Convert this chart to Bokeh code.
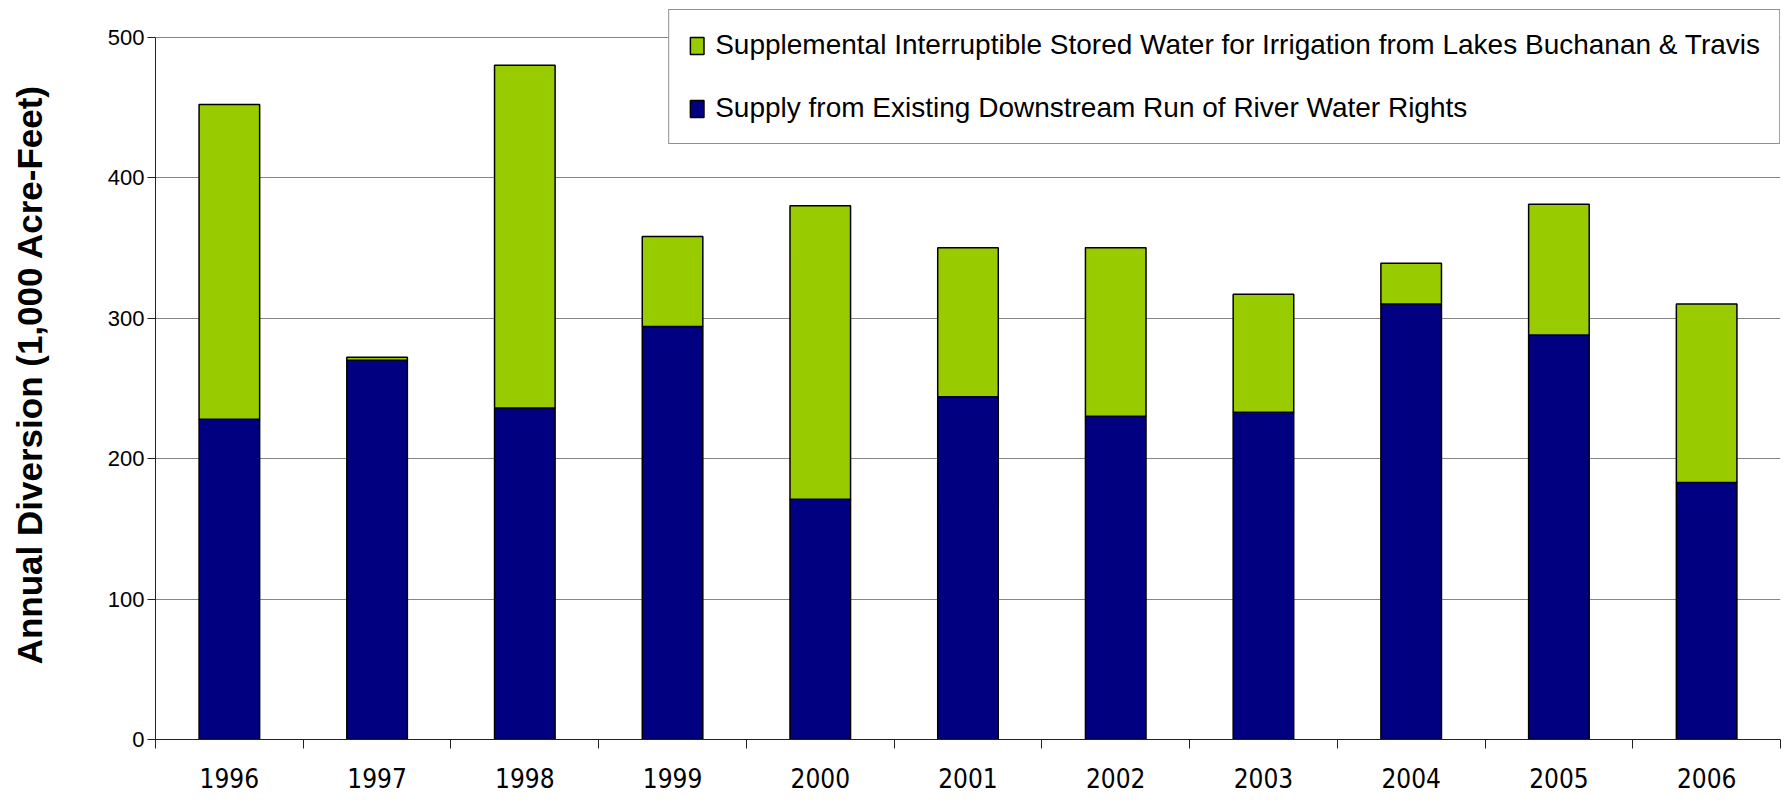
from bokeh.plotting import figure
from bokeh.models import (ColumnDataSource, Range1d, FixedTicker, Legend, LegendItem)
from bokeh.embed import file_html
from bokeh.resources import INLINE

# ---- data (1,000 acre-feet) ----
years = ["1996", "1997", "1998", "1999", "2000", "2001", "2002", "2003", "2004", "2005", "2006"]
run_of_river = [228, 270, 236, 294, 171, 244, 230, 233, 310, 288, 183]
stored_water = [224, 2, 244, 64, 209, 106, 120, 84, 29, 93, 127]
y_ticks = [0, 100, 200, 300, 400, 500]

label_stored = "Supplemental Interruptible Stored Water for Irrigation from Lakes Buchanan & Travis"
label_run = "Supply from Existing Downstream Run of River Water Rights"

xpos = list(range(1, len(years) + 1))
source = ColumnDataSource(dict(x=xpos, run=run_of_river, stored=stored_water))

W, H = 1784, 800
p = figure(width=W, height=H, output_backend="svg", toolbar_location=None,
           x_range=Range1d(0.5, len(years) + 0.5), y_range=Range1d(0, 519.6),
           min_border_left=155, min_border_right=4, min_border_top=9, min_border_bottom=61)
p.outline_line_color = None
p.background_fill_color = "white"
p.border_fill_color = "white"

rs = p.vbar_stack(["run", "stored"], x="x", width=0.41, source=source,
                  fill_color=["#000080", "#99CC00"], line_color="black", line_width=1.5)

# grid
p.xgrid.visible = False
p.ygrid.ticker = FixedTicker(ticks=y_ticks)
p.ygrid.grid_line_color = "#868686"
p.ygrid.grid_line_width = 1

# y axis
ya = p.yaxis[0]
ya.ticker = FixedTicker(ticks=y_ticks, minor_ticks=[])
ya.bounds = (0, 500)
ya.axis_line_color = "#222222"
ya.major_tick_line_color = "#222222"
ya.major_tick_out = 8
ya.major_tick_in = 0
ya.minor_tick_line_color = None
ya.major_label_standoff = 3
ya.major_label_text_font = "Liberation Sans"
ya.major_label_text_font_size = "22px"
ya.major_label_text_color = "black"
ya.axis_label = "Annual Diversion (1,000 Acre-Feet)"
ya.axis_label_text_font = "Liberation Sans"
ya.axis_label_text_font_style = "bold"
ya.axis_label_text_font_size = "35px"
ya.axis_label_text_color = "black"
ya.axis_label_standoff = 56

# x axis: labels at bar centres, tick marks at category boundaries
xa = p.xaxis[0]
xa.ticker = FixedTicker(ticks=xpos, minor_ticks=[i + 0.5 for i in range(0, len(years) + 1)])
xa.major_label_overrides = {i: y for i, y in zip(xpos, years)}
xa.axis_line_color = "#222222"
xa.major_tick_line_color = None
xa.major_tick_out = 0
xa.major_tick_in = 0
xa.minor_tick_line_color = "#222222"
xa.minor_tick_out = 9
xa.minor_tick_in = 0
xa.major_label_standoff = 19
xa.major_label_text_font = "Liberation Sans Narrow, DejaVu Sans Condensed, Liberation Sans"
xa.major_label_text_font_size = "26px"
xa.major_label_text_color = "black"

legend = Legend(items=[LegendItem(label=label_stored, renderers=[rs[1]]),
                       LegendItem(label=label_run, renderers=[rs[0]])],
                location="top_right", margin=0, padding=19, spacing=31,
                glyph_width=17, glyph_height=21, label_height=32, label_standoff=10,
                label_text_font="Liberation Sans", label_text_font_size="28px",
                label_text_color="black", border_line_color="#222222", border_line_width=1,
                background_fill_color="white", background_fill_alpha=1.0)
p.add_layout(legend, "center")

open("out.html", "w").write(file_html(p, INLINE))
